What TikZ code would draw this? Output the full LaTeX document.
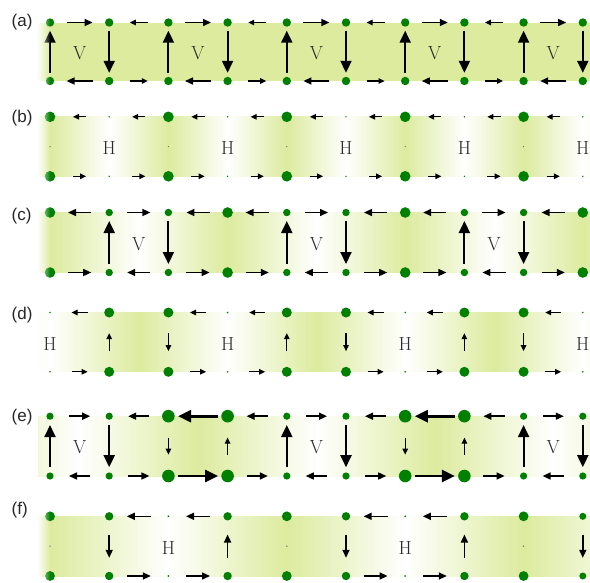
\documentclass[tikz,border=0pt]{standalone}
\usepackage{fontspec}
\newfontfamily\labelfont{Liberation Sans}
\usepackage{tikz}
\usetikzlibrary{arrows.meta,calc,fadings}

\definecolor{bandgreen}{RGB}{220,235,158}
\definecolor{sitegreen}{RGB}{0,128,0}
\definecolor{textgray}{RGB}{45,45,45}
\tikzfading[name=fade right,left color=transparent!0,right color=transparent!100]

\newcommand\ladder[3]{%
  \foreach \k in {0,...,9}{
    \coordinate (#1-\k-t) at ({50+59.2*\k},#2);
    \coordinate (#1-\k-b) at ({50+59.2*\k},#3);
  }}
\newcommand\band[4]{%
  \begin{scope}
    \clip (38,#1) rectangle (590,#2);
    \foreach \n in {-2,...,10}{
      \pgfmathsetmacro\xa{50+59.2*(#4+\n*#3/2)}
      \pgfmathsetmacro\xb{\xa+29.6*#3+0.5}
      \pgfmathtruncatemacro\ca{mod(\n+20,2)==0 ? 100 : 0}
      \pgfmathtruncatemacro\cb{100-\ca}
      \shade[left color=bandgreen!\ca!white,right color=bandgreen!\cb!white]
        (\xa,#1) rectangle (\xb,#2);
    }
  \end{scope}}
\newcommand\fadeleft[2]{%
  \fill[white,path fading=fade right] (37,#1-8) rectangle (50,#2+8);}

\begin{document}
\begin{tikzpicture}[x=1pt,y=-1pt,
  site/.style={fill=sitegreen},
  zero/.style={fill=black!55},
  bigarr/.style={line width=2pt,-{Triangle[length=12pt,width=11pt]}},
  fatarr/.style={line width=2.6pt,-{Triangle[length=13pt,width=12pt]}},
  midarr/.style={line width=1.5pt,-{Triangle[length=8pt,width=7pt]}},
  smallarr/.style={line width=1.2pt,-{Triangle[length=6pt,width=5.5pt]}},
  inset/.style={shorten <=#1,shorten >=#1},
  plaq/.style={font=\fontsize{19}{19}\selectfont,text=textgray,inner sep=0pt,yshift=-1.5pt},
  tag/.style={font=\labelfont\fontsize{17}{17}\selectfont,text=black!85,inner sep=0pt,anchor=west}
]
\useasboundingbox (0,0) rectangle (590,582);

% (a)
\ladder{a}{22.5}{81}
\fill[bandgreen] (38,22.5) rectangle (590,81);
\foreach \i/\j in {0/1,2/3,4/5,6/7,8/9}{
  \draw[midarr,inset=16.6pt] (a-\i-t) -- (a-\j-t);
  \draw[midarr,inset=16.6pt] (a-\j-b) -- (a-\i-b);
  \draw[bigarr,inset=8.2pt] (a-\i-b) -- (a-\i-t);
  \draw[bigarr,inset=8.2pt] (a-\j-t) -- (a-\j-b);
}
\foreach \i/\j in {1/2,3/4,5/6,7/8}{
  \draw[smallarr,inset=20.6pt] (a-\j-t) -- (a-\i-t);
  \draw[smallarr,inset=20.6pt] (a-\i-b) -- (a-\j-b);
}
\foreach \k in {0,...,9}
  \fill[site] (a-\k-t) circle (4.2pt) (a-\k-b) circle (4.2pt);
\fadeleft{22.5}{81}
\foreach \i/\j in {0/1,2/3,4/5,6/7,8/9}
  \node[plaq] (a-v\i) at ($(a-\i-t)!.5!(a-\j-b)$) {V};
\node[tag] (a-tag) at (11.5,22.5) {(a)};

% (b)
\ladder{b}{116.8}{176.3}
\band{116.8}{176.3}{2}{0}
\foreach \i/\j in {0/1,1/2,2/3,3/4,4/5,5/6,6/7,7/8,8/9}{
  \draw[smallarr,inset=23pt] (b-\j-t) -- (b-\i-t);
  \draw[smallarr,inset=23pt] (b-\i-b) -- (b-\j-b);
}
\foreach \k/\rad in {0/5.3,1/0.8,2/5.3,3/0.8,4/5.3,5/0.8,6/5.3,7/0.8,8/5.3,9/0.8}
  \fill[site] (b-\k-t) circle (\rad pt) (b-\k-b) circle (\rad pt);
\foreach \k in {0,2,4,6,8}
  \fill[zero] ($(b-\k-t)!.5!(b-\k-b)$) circle (0.7pt);
\fadeleft{116.8}{176.3}
\foreach \k in {1,3,5,7,9}
  \node[plaq] (b-h\k) at ($(b-\k-t)!.5!(b-\k-b)$) {H};
\node[tag] (b-tag) at (11.5,118) {(b)};

% (c)
\ladder{c}{212.5}{272.5}
\band{212.5}{272.5}{3}{0}
\foreach \i/\j in {1/2,4/5,7/8}{
  \draw[bigarr,inset=8.5pt] (c-\i-b) -- (c-\i-t);
  \draw[bigarr,inset=8.5pt] (c-\j-t) -- (c-\j-b);
  \draw[midarr,inset=18pt] (c-\i-t) -- (c-\j-t);
  \draw[midarr,inset=18pt] (c-\j-b) -- (c-\i-b);
  \node[plaq] (c-v\i) at ($(c-\i-t)!.5!(c-\j-b)$) {V};
}
\foreach \i/\j in {0/1,2/3,3/4,5/6,6/7,8/9}{
  \draw[midarr,inset=18pt] (c-\j-t) -- (c-\i-t);
  \draw[midarr,inset=18pt] (c-\i-b) -- (c-\j-b);
}
\foreach \k/\rad in {0/5.3,1/3.7,2/3.7,3/5.3,4/3.7,5/3.7,6/5.3,7/3.7,8/3.7,9/5.3}
  \fill[site] (c-\k-t) circle (\rad pt) (c-\k-b) circle (\rad pt);
\fadeleft{212.5}{272.5}
\node[tag] (c-tag) at (11.5,216) {(c)};

% (d)
\ladder{d}{312.5}{371.8}
\band{312.5}{371.8}{3}{1.5}
\foreach \i/\j in {1/2,4/5,7/8}{
  \draw[smallarr,inset=20.7pt] (d-\i-b) -- (d-\i-t);
  \draw[smallarr,inset=20.7pt] (d-\j-t) -- (d-\j-b);
}
\foreach \i/\j in {0/1,2/3,3/4,5/6,6/7,8/9}{
  \draw[smallarr,inset=21.6pt] (d-\j-t) -- (d-\i-t);
  \draw[smallarr,inset=21.6pt] (d-\i-b) -- (d-\j-b);
}
\foreach \k/\rad in {0/0.9,1/5,2/5,3/0.9,4/5,5/5,6/0.9,7/5,8/5,9/0.9}
  \fill[site] (d-\k-t) circle (\rad pt) (d-\k-b) circle (\rad pt);
\fadeleft{312.5}{371.8}
\foreach \k in {0,3,6,9}
  \node[plaq] (d-h\k) at ($(d-\k-t)!.5!(d-\k-b)$) {H};
\node[tag] (d-tag) at (11.5,315) {(d)};

% (e)
\ladder{e}{416.2}{476}
\band{416.2}{476}{4}{2.5}
\foreach \i/\j in {0/1,4/5,8/9}{
  \draw[bigarr,inset=8.8pt] (e-\i-b) -- (e-\i-t);
  \draw[bigarr,inset=8.8pt] (e-\j-t) -- (e-\j-b);
  \draw[midarr,inset=19pt] (e-\i-t) -- (e-\j-t);
  \draw[midarr,inset=19pt] (e-\j-b) -- (e-\i-b);
  \node[plaq] (e-v\i) at ($(e-\i-t)!.5!(e-\j-b)$) {V};
}
\foreach \i/\j in {2/3,6/7}{
  \draw[smallarr,inset=21.4pt] (e-\i-t) -- (e-\i-b);
  \draw[smallarr,inset=21.4pt] (e-\j-b) -- (e-\j-t);
  \draw[fatarr,inset=9.6pt] (e-\j-t) -- (e-\i-t);
  \draw[fatarr,inset=9.6pt] (e-\i-b) -- (e-\j-b);
}
\foreach \i/\j in {1/2,3/4,5/6,7/8}{
  \draw[midarr,inset=19pt] (e-\j-t) -- (e-\i-t);
  \draw[midarr,inset=19pt] (e-\i-b) -- (e-\j-b);
}
\foreach \k/\rad in {0/3.6,1/3.6,2/6.3,3/6.3,4/3.6,5/3.6,6/6.3,7/6.3,8/3.6,9/3.6}
  \fill[site] (e-\k-t) circle (\rad pt) (e-\k-b) circle (\rad pt);
\node[tag] (e-tag) at (11.5,417) {(e)};

% (f)
\ladder{f}{516.3}{576}
\band{516.3}{576}{4}{0}
\foreach \k in {1,5,9}
  \draw[midarr,inset=18.2pt] (f-\k-t) -- (f-\k-b);
\foreach \k in {3,7}
  \draw[midarr,inset=18.2pt] (f-\k-b) -- (f-\k-t);
\foreach \i/\j in {1/2,2/3,5/6,6/7}{
  \draw[midarr,inset=17.6pt] (f-\j-t) -- (f-\i-t);
  \draw[midarr,inset=17.6pt] (f-\i-b) -- (f-\j-b);
}
\foreach \k/\rad in {0/4.9,1/4.2,2/1,3/4.2,4/4.9,5/4.2,6/1,7/4.2,8/4.9,9/3.5}
  \fill[site] (f-\k-t) circle (\rad pt) (f-\k-b) circle (\rad pt);
\foreach \k in {0,4,8}
  \fill[zero] ($(f-\k-t)!.5!(f-\k-b)$) circle (0.8pt);
\fadeleft{516.3}{576}
\foreach \k in {2,6}
  \node[plaq] (f-h\k) at ($(f-\k-t)!.5!(f-\k-b)$) {H};
\node[tag] (f-tag) at (11.5,510) {(f)};
\end{tikzpicture}
\end{document}
